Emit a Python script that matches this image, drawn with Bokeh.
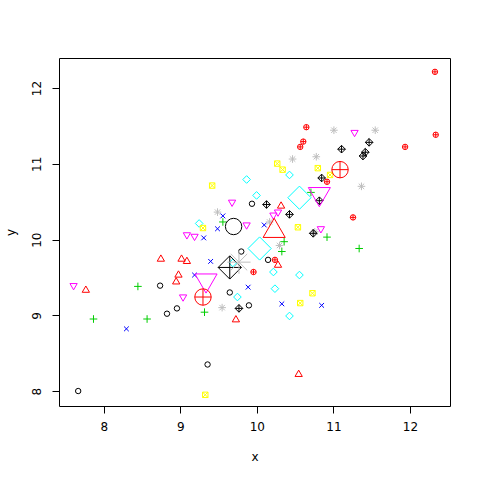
import numpy as np
from bokeh.plotting import figure
from bokeh.models import FixedTicker, Range1d
from bokeh.embed import file_html
from bokeh.resources import INLINE

# ---- data: ten groups of points (x, y) ----
x_g1 = [8.73, 8.82, 8.95, 9.35, 7.66, 9.79, 9.64, 9.89, 9.93, 10.14]
y_g1 = [9.40, 9.03, 9.10, 8.36, 8.01, 9.85, 9.31, 9.14, 10.48, 9.74]

x_g2 = [7.76, 8.74, 9.01, 9.08, 8.97, 8.94, 9.72, 10.27, 10.31, 10.54]
y_g2 = [9.34, 9.75, 9.75, 9.72, 9.54, 9.45, 8.95, 9.67, 10.45, 8.23]

x_g3 = [7.86, 8.44, 8.56, 9.31, 9.55, 10.35, 10.32, 10.91, 11.33, 10.70]
y_g3 = [8.96, 9.39, 8.96, 9.05, 10.24, 9.98, 9.85, 10.04, 9.89, 10.63]

x_g4 = [8.29, 9.18, 9.39, 9.88, 10.32, 10.84, 9.48, 9.55, 9.30, 10.09]
y_g4 = [8.83, 9.54, 9.72, 9.38, 9.16, 9.14, 10.15, 10.32, 10.03, 10.20]

x_g5 = [9.74, 10.21, 10.55, 10.23, 10.42, 9.24, 9.86, 9.99, 10.42, 9.68]
y_g5 = [9.25, 9.58, 9.54, 9.36, 9.00, 10.22, 10.80, 10.59, 10.86, 9.70]

x_g6 = [7.60, 9.03, 9.08, 9.18, 9.67, 9.86, 10.21, 10.27, 10.83, 11.27]
y_g6 = [9.40, 9.25, 10.07, 10.05, 10.50, 10.20, 10.33, 10.37, 10.15, 11.42]

x_g7 = [9.32, 9.41, 9.29, 10.26, 10.33, 10.79, 10.95, 10.53, 10.72, 10.56]
y_g7 = [7.96, 10.72, 10.16, 11.01, 10.93, 10.95, 10.86, 10.17, 9.30, 9.17]

x_g8 = [9.48, 9.54, 10.29, 10.46, 10.77, 11.00, 11.54, 11.36, 10.16, 10.75]
y_g8 = [10.37, 9.11, 9.93, 11.07, 11.10, 11.45, 11.45, 10.71, 10.24, 10.11]

x_g9 = [9.76, 10.12, 10.42, 10.73, 10.81, 10.84, 11.10, 11.46, 11.41, 11.38]
y_g9 = [9.10, 10.47, 10.34, 10.09, 10.52, 10.82, 11.20, 11.29, 11.16, 11.11]

x_g10 = [9.95, 10.23, 10.91, 11.25, 10.56, 10.60, 10.64, 11.93, 12.33, 12.32]
y_g10 = [9.58, 9.74, 10.77, 10.30, 11.23, 11.30, 11.49, 11.23, 11.39, 12.22]

# large symbols (group id, x, y)
big_group = [1, 2, 5, 5, 6, 6, 9, 10, 10, 8]
big_x = [9.69, 10.22, 10.55, 10.03, 10.81, 9.33, 9.64, 11.08, 9.29, 9.76]
big_y = [10.18, 10.12, 10.56, 9.89, 10.61, 9.47, 9.64, 10.93, 9.25, 9.71]

x_ticks = [8, 9, 10, 11, 12]
y_ticks = [8, 9, 10, 11, 12]

# ---- styles (R pch 1..10 with palette colours) ----
Q = np.pi / 4
style = {
    1: ("circle", "#000000", 2.0, 0),
    2: ("triangle", "#FF0000", 2.694, 0),
    3: ("cross", "#00CD00", 2.828, 0),
    4: ("x", "#0000FF", 2.5, 0),
    5: ("square", "#00FFFF", 2.0, Q),
    6: ("inverted_triangle", "#FF00FF", 2.694, 0),
    7: ("square_x", "#FFFF00", 2.0, 0),
    8: ("asterisk", "#BEBEBE", 2.828, 0),
    9: ("square_x", "#000000", 2.0, Q),
    10: ("circle_cross", "#FF0000", 2.0, 0),
}
R_SMALL = 2.7
R_BIG = 8.2
K = 0.5  # empirical scale of marker size

p = figure(width=472, height=472, frame_width=391, frame_height=348,
           min_border_left=59, min_border_top=58, min_border_right=22,
           min_border_bottom=66, output_backend="svg", toolbar_location=None,
           x_range=Range1d(7.416, 12.523), y_range=Range1d(7.806, 12.396))
p.background_fill_color = "white"
p.border_fill_color = "white"
p.outline_line_color = "black"
p.outline_line_width = 1
p.outline_line_alpha = 1
p.grid.grid_line_color = None

groups = [(x_g1, y_g1), (x_g2, y_g2), (x_g3, y_g3), (x_g4, y_g4), (x_g5, y_g5),
          (x_g6, y_g6), (x_g7, y_g7), (x_g8, y_g8), (x_g9, y_g9), (x_g10, y_g10)]
for gi, (gx, gy) in enumerate(groups, start=1):
    mk, col, fac, ang = style[gi]
    p.scatter(gx, gy, marker=mk, size=K * fac * 2 * R_SMALL, angle=ang,
              fill_color=None, line_color=col, line_width=1)

for g, bx, by in zip(big_group, big_x, big_y):
    mk, col, fac, ang = style[g]
    p.scatter([bx], [by], marker=mk, size=K * fac * 2 * R_BIG, angle=ang,
              fill_color=None, line_color=col, line_width=1)

for ax, ticks in ((p.xaxis, x_ticks), (p.yaxis, y_ticks)):
    ax.ticker = FixedTicker(ticks=ticks)
    ax.minor_tick_line_color = None
    ax.major_tick_in = 0
    ax.major_tick_out = 7
    ax.major_tick_line_color = "black"
    ax.axis_line_color = None
    ax.major_label_text_font = "DejaVu Sans"
    ax.major_label_text_font_size = "12px"
    ax.major_label_text_color = "black"
    ax.axis_label_text_font = "DejaVu Sans"
    ax.axis_label_text_font_size = "12px"
    ax.axis_label_text_font_style = "normal"
    ax.axis_label_text_color = "black"

p.xaxis.axis_label = "x"
p.yaxis.axis_label = "y"
p.xaxis.major_label_standoff = 8
p.xaxis.axis_label_standoff = 16
p.yaxis.major_label_orientation = "vertical"
p.yaxis.major_label_standoff = 11
p.yaxis.axis_label_standoff = 12

open("out.html", "w").write(file_html(p, INLINE))
